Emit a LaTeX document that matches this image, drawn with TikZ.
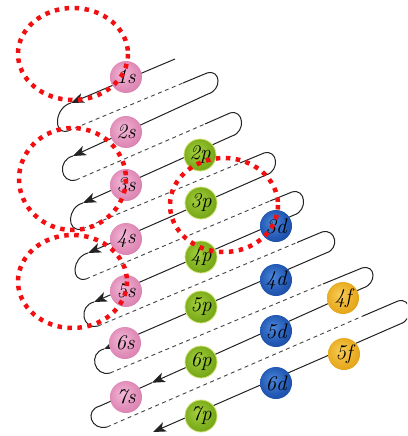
\documentclass[tikz,border=0pt]{standalone}
\usepackage{fontspec}
\usetikzlibrary{arrows.meta}
\definecolor{sIn}{HTML}{F2B8D6}
\definecolor{sMid}{HTML}{E08CB8}
\definecolor{sOut}{HTML}{CC6A9E}
\definecolor{pIn}{HTML}{A6D040}
\definecolor{pMid}{HTML}{7DAE1C}
\definecolor{pOut}{HTML}{5C8C0C}
\definecolor{pRim}{HTML}{D4E27A}
\definecolor{dIn}{HTML}{4A86DA}
\definecolor{dMid}{HTML}{2258B4}
\definecolor{dOut}{HTML}{103A86}
\definecolor{fIn}{HTML}{F7CC55}
\definecolor{fMid}{HTML}{E9AC22}
\definecolor{fOut}{HTML}{CC8C08}
\definecolor{lineC}{HTML}{222222}
\definecolor{dashC}{HTML}{444444}
\definecolor{dotred}{HTML}{F20F12}
\pgfdeclareradialshading{sball}{\pgfpoint{-6bp}{6bp}}{color(0bp)=(sIn); color(22bp)=(sMid); color(44bp)=(sOut); color(50bp)=(sOut)}
\pgfdeclareradialshading{pball}{\pgfpoint{-6bp}{6bp}}{color(0bp)=(pIn); color(22bp)=(pMid); color(44bp)=(pOut); color(50bp)=(pOut)}
\pgfdeclareradialshading{dball}{\pgfpoint{-6bp}{6bp}}{color(0bp)=(dIn); color(22bp)=(dMid); color(44bp)=(dOut); color(50bp)=(dOut)}
\pgfdeclareradialshading{fball}{\pgfpoint{-6bp}{6bp}}{color(0bp)=(fIn); color(22bp)=(fMid); color(44bp)=(fOut); color(50bp)=(fOut)}
\tikzset{
  orb/.style={circle, minimum size=32pt, inner sep=0pt,
    font=\fontsize{21}{21}\selectfont\itshape, text=black},
  sorb/.style={orb, shading=sball},
  porb/.style={orb, shading=pball, draw=pRim, line width=0.8pt},
  dorb/.style={orb, shading=dball},
  forb/.style={orb, shading=fball},
  sline/.style={draw=lineC, line width=1pt},
  dline/.style={draw=dashC, line width=0.9pt, dash pattern=on 4pt off 3.5pt},
  tip/.style={-{Stealth[length=13pt,width=10pt,inset=3.5pt]}},
  hilite/.style={draw=dotred, line width=4.5pt, dash pattern=on 4.5pt off 5.5pt},
}
\begin{document}
\begin{tikzpicture}[x=1pt,y=-1pt]
\useasboundingbox (0,0) rectangle (407,436);
\fill[white] (0,0) rectangle (407,436);
\clip (0,0) rectangle (407,436);
% path points
\coordinate (S1) at (175,59);
\coordinate (A1) at (71,103);
\coordinate (B1) at (68,131);
\coordinate (P1) at (183,83);
\coordinate (T1) at (207,73);
\coordinate (E1) at (208,94);
\coordinate (A2) at (73,156);
\coordinate (B2) at (76,180);
\coordinate (P2) at (205,124);
\coordinate (T2) at (230,113);
\coordinate (E2) at (232,136);
\coordinate (A3) at (83,203);
\coordinate (B3) at (82,229);
\coordinate (P3) at (240,163);
\coordinate (T3) at (264,153);
\coordinate (E3) at (266,175);
\coordinate (A4) at (88,253);
\coordinate (B4) at (86,279);
\coordinate (P4) at (270,201);
\coordinate (T4) at (292,192);
\coordinate (E4) at (294,215);
\coordinate (A5) at (94,302);
\coordinate (B5) at (98,326);
\coordinate (P5) at (297,242.5);
\coordinate (T5) at (322,232);
\coordinate (E5) at (326,253);
\coordinate (A6) at (104,349);
\coordinate (B6) at (110,373);
\coordinate (P6) at (323,284);
\coordinate (T6) at (362,268);
\coordinate (E6) at (363,288);
\coordinate (M7) at (152,382.7);
\coordinate (A7) at (100,406);
\coordinate (B7) at (107,427);
\coordinate (P7) at (363,316);
\coordinate (T7) at (398,301);
\coordinate (E7) at (400,324);
\coordinate (A8) at (153,432);
% solid diagonals with arrows
\draw[sline,tip] (S1) -- (A1);
\draw[sline,tip] (E1) -- (A2);
\draw[sline,tip] (E2) -- (A3);
\draw[sline,tip] (E3) -- (A4);
\draw[sline,tip] (E4) -- (A5);
\draw[sline,tip] (E5) -- (A6);
\draw[sline,tip] (E6) -- (M7);
\draw[sline] (M7) -- (A7);
\draw[sline,tip] (E7) -- (A8);
% left turns
\foreach \k in {1,...,7}{
  \draw[sline] (A\k) .. controls +(-16,4) and +(-16,4) .. (B\k);
}
% dashed returns, solid near right turn, right turns
\foreach \k in {1,...,7}{
  \draw[dline] (B\k) -- (P\k);
  \draw[sline] (P\k) -- (T\k) .. controls +(14,-4) and +(14,-4) .. (E\k);
}
% orbitals
\node[sorb] (s1) at (126,77) {1s};
\node[sorb] (s2) at (126,132) {2s};
\node[sorb] (s3) at (126,185) {3s};
\node[sorb] (s4) at (126,239) {4s};
\node[sorb] (s5) at (126,291) {5s};
\node[sorb] (s6) at (125,343) {6s};
\node[sorb] (s7) at (126,397) {7s};
\node[porb] (p2) at (200,155) {2p};
\node[porb] (p3) at (201,203) {3p};
\node[porb] (p4) at (201,257) {4p};
\node[porb] (p5) at (201,307) {5p};
\node[porb] (p6) at (201,362) {6p};
\node[porb] (p7) at (201,416) {7p};
\node[dorb] (d3) at (276,226) {3d};
\node[dorb] (d4) at (276,280) {4d};
\node[dorb] (d5) at (276,331) {5d};
\node[dorb] (d6) at (276,383) {6d};
\node[forb] (f4) at (343,298) {4f};
\node[forb] (f5) at (344,354) {5f};
% red dotted highlights
\draw[hilite] (73,54) ellipse [x radius=55, y radius=46];
\draw[hilite] (72.5,179) ellipse [x radius=53.5, y radius=51];
\draw[hilite] (72.5,281.5) ellipse [x radius=54.5, y radius=46.5];
\draw[hilite] (224,205) ellipse [x radius=54, y radius=47];
\end{tikzpicture}
\end{document}
